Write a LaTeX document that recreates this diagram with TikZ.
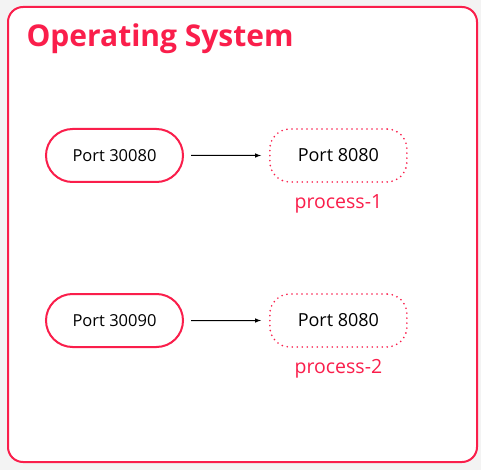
\documentclass[tikz,border=0pt]{standalone}
\usepackage{fontspec}
\setmainfont{Open Sans}
\usepackage{xcolor}
\definecolor{osred}{RGB}{250,30,75}
\definecolor{bggray}{RGB}{243,243,243}
\usepackage{tikz}
\usetikzlibrary{positioning}
\usetikzlibrary{shapes.misc}
\newcommand{\widthport}{137pt}
\newcommand{\heightport}{53pt}
\newcommand{\gapport}{85pt}
\tikzset{
    common/.style={draw, minimum width=\widthport, minimum height=\heightport, inner sep=0pt},
    port/.style={common, rounded rectangle, osred, line width=2pt, text=black, font=\fontsize{16.5}{19}\selectfont},
    proc/.style={common, rounded corners=20pt, osred, line width=1.8pt, dash pattern=on 0pt off 5pt, line cap=round, text=black, font=\fontsize{18}{21}\selectfont},
    procname/.style={text=osred, font=\fontsize{19.5}{23}\selectfont},
    fwd/.style={->, >=latex, line width=1pt, shorten <=7pt, shorten >=8pt}
}

\begin{document}
\begin{tikzpicture}[x=1pt, y=1pt]
              \useasboundingbox (0,0) rectangle (481,-470);
              \fill[bggray] (0,0) rectangle (481,-470);
              \draw[osred, line width=2pt, fill=white, rounded corners=15pt] (8,-7) rectangle (477,-462);
              \node[anchor=base west, text=osred, font=\bfseries\fontsize{30}{35}\selectfont] (title) at (23,-47) {Operating System};

              \node[port] (os30080) at (114.5,-155.5) {Port 30080};
              \node[proc, right=\gapport of os30080] (p1) {Port 8080};
              \node[procname, below=8pt of p1] (p1name) {process-1};

              \node[port, below=110pt of os30080] (os30090) {Port 30090};
              \node[proc, right=\gapport of os30090] (p2) {Port 8080};
              \node[procname, below=8pt of p2] (p2name) {process-2};

              \draw[fwd] (os30080) -- (p1);
              \draw[fwd] (os30090) -- (p2);
          \end{tikzpicture}
\end{document}
